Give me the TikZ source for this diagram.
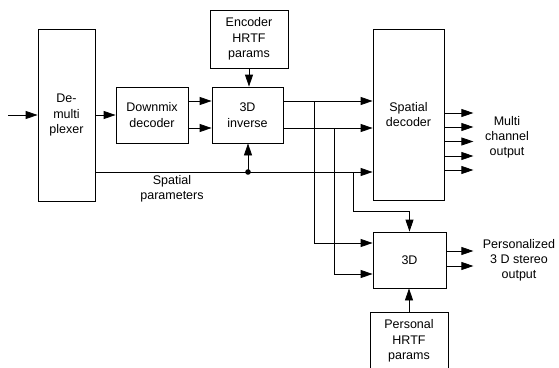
\documentclass[tikz,border=0pt]{standalone}
\usepackage{fontspec}
\setmainfont{Liberation Sans}
\usetikzlibrary{arrows.meta,positioning,calc}

\begin{document}
\begin{tikzpicture}[x=1pt, y=-1pt, >={Triangle[length=12pt,width=8pt]},
  blk/.style={draw, line width=0.8pt, align=center, inner sep=0pt,
    font=\fontsize{12.5}{15.5}\selectfont},
  lbl/.style={align=center, font=\fontsize{12.5}{15}\selectfont},
  arr/.style={->, line width=0.8pt},
  wire/.style={line width=0.8pt}]
\useasboundingbox (0,0) rectangle (559,367);
% blocks
\node[blk, minimum width=57pt, minimum height=172pt] (dmx) at (66.5,115) {De-\\multi\\plexer};
\node[blk, minimum width=72pt, minimum height=56pt] (dm) at (152,115) {Downmix\\decoder};
\node[blk, minimum width=71pt, minimum height=56pt] (inv) at (247.5,115) {3D\\inverse};
\node[blk, minimum width=78pt, minimum height=58pt] (enc) at (249,39) {Encoder\\HRTF\\params};
\node[blk, minimum width=71pt, minimum height=171pt] (sd) at (408.5,114.5) {Spatial\\decoder};
\node[blk, minimum width=73pt, minimum height=56pt] (td) at (409.5,260) {3D};
\begin{scope}
  \clip (0,0) rectangle (559,367);
  \node[blk, minimum width=78pt, minimum height=58pt] (ph) at (409,341) {Personal\\HRTF\\params};
\end{scope}
% labels
\node[lbl] (splbl) at (172,189) {Spatial\\parameters};
\node[lbl] (mclbl) at (507,137) {Multi\\channel\\output};
\node[lbl] (pslbl) at (519,260) {Personalized\\3 D stereo\\output};
% signal path
\coordinate (in) at (8,115);
\draw[arr] (in) -- (dmx);
\draw[arr] (dmx) -- (dm);
\draw[arr] ([yshift=14pt]dm.east) -- ([yshift=14pt]inv.west);
\draw[arr] ([yshift=-13pt]dm.east) -- ([yshift=-13pt]inv.west);
\draw[arr] (enc.south) -- (enc.south |- inv.north);
\draw[arr] ([yshift=14pt]inv.east) -- ([yshift=14pt]inv.east -| sd.west);
\draw[arr] ([yshift=-13pt]inv.east) -- ([yshift=-13pt]inv.east -| sd.west);
% spatial parameters
\coordinate (sp) at (248,172);
\draw[wire] ([yshift=-57pt]dmx.east) -- (sp);
\fill (sp) circle (2.8pt);
\draw[arr] (sp) -- (sp |- inv.south);
\draw[arr] (sp) -- (sp -| sd.west);
% taps to 3D
\coordinate (ta) at (314,101);
\coordinate (tb) at (334,128);
\coordinate (tc) at (353,172);
\draw[arr] (ta) |- ([yshift=17pt]td.west);
\draw[arr] (tb) |- ([yshift=-14pt]td.west);
\draw[arr] (tc) |- ($(td.north)+(0,-20)$) -- (td.north);
\draw[arr] (ph.north) -- (ph.north |- td.south);
% outputs
\foreach \y in {113,127,141.5,156,170}
  \draw[arr] (sd.east |- 0,\y) -- ++(29,0);
\foreach \y in {251,266}
  \draw[arr] (td.east |- 0,\y) -- ++(27,0);
\end{tikzpicture}
\end{document}
